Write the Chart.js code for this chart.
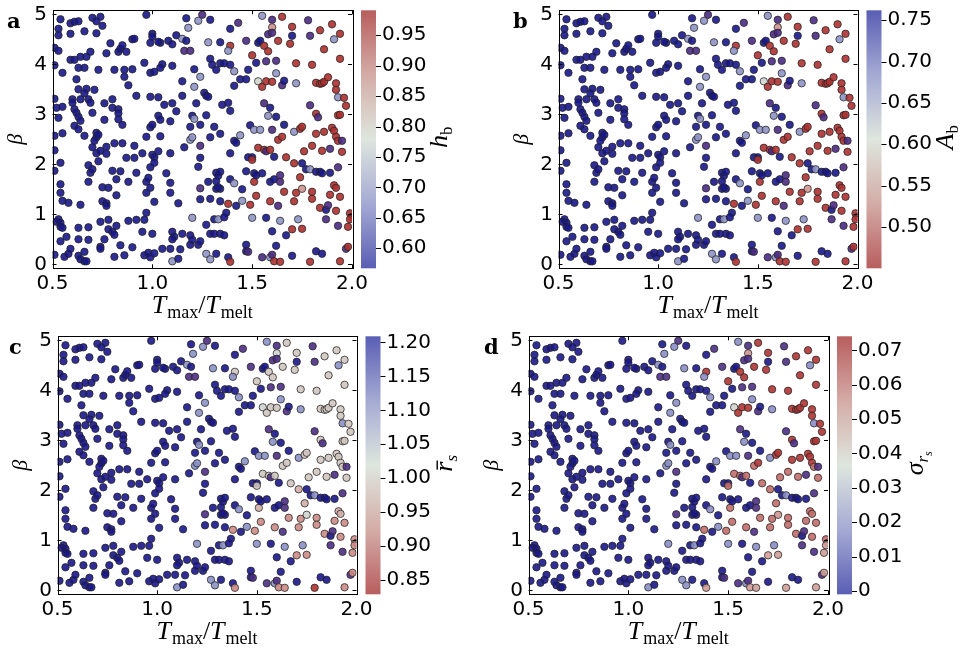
<!DOCTYPE html>
<html>
<head>
<meta charset="utf-8">
<script src="https://cdn.jsdelivr.net/npm/chart.js@4.4.1/dist/chart.umd.min.js"></script>
<style>
html, body { margin: 0; padding: 0; background: #fff; }
#wrap { position: relative; width: 966px; height: 653px; overflow: hidden; }
canvas { position: absolute; }
</style>
</head>
<body>
<div id="wrap">
<canvas id="pa"></canvas>
<canvas id="pb"></canvas>
<canvas id="pc"></canvas>
<canvas id="pd"></canvas>
</div>
<script>
// sample points, T_max/T_melt and beta (same runs in all four panels)
var tmax = [
0.54,0.53,0.53,0.59,0.61,0.63,0.59,0.66,0.70,0.74,0.72,0.75,0.72,0.97,1.17,1.25,1.23,1.29,1.18,1.39,1.43,1.55,1.60,1.65,1.60,1.58,1.60,1.70,1.70,1.78,1.84,1.90,1.94,1.91,1.00,1.00,1.12,1.15,1.17,1.08,1.04,1.10,
0.51,0.53,0.64,0.67,0.69,0.59,0.61,0.77,0.79,0.83,0.84,0.87,0.85,0.90,0.91,0.99,1.03,1.16,1.19,1.28,1.34,1.39,1.38,1.47,1.53,1.54,1.56,1.58,1.63,1.69,1.79,1.86,1.50,1.57,1.62,1.72,1.94,1.52,1.29,
0.51,0.55,0.63,0.66,0.62,0.63,0.67,0.73,0.81,0.86,0.86,0.88,0.90,0.96,0.99,1.01,1.05,1.04,1.10,1.15,1.21,1.24,1.21,1.26,1.27,1.30,1.32,1.34,1.36,1.39,1.41,1.44,1.47,1.48,1.41,1.53,1.55,1.57,1.60,1.62,1.65,1.66,1.72,1.82,1.84,1.85,1.86,1.88,1.92,1.92,1.93,1.96,1.97,1.80,
0.51,0.52,0.55,0.60,0.60,0.61,0.62,0.64,0.66,0.68,0.69,0.71,0.70,0.76,0.80,0.80,0.83,0.83,0.92,0.99,1.03,1.06,1.10,1.15,1.12,1.22,1.20,1.21,1.27,1.28,1.35,1.38,1.39,1.56,1.59,1.58,1.62,1.79,1.82,1.83,1.93,1.94,
0.51,0.53,0.55,0.61,0.63,0.63,0.64,0.66,0.72,0.72,0.73,0.76,0.83,0.85,0.97,0.99,1.00,1.03,1.04,1.09,1.19,1.24,1.31,1.34,1.29,1.44,1.49,1.51,1.54,1.60,1.66,1.71,1.74,1.75,1.82,1.86,1.90,1.91,1.92,1.93,1.95,1.63,1.65,
0.51,0.70,0.72,0.74,0.71,0.73,0.77,0.77,0.81,0.85,0.91,0.95,1.00,1.01,1.03,1.04,1.09,1.16,1.19,1.20,1.24,1.24,1.39,1.41,1.42,1.48,1.50,1.50,1.53,1.56,1.57,1.59,1.61,1.67,1.76,1.80,1.85,1.89,1.95,0.87,
0.54,0.51,0.54,0.68,0.69,0.68,0.70,0.75,0.78,0.80,0.82,0.84,0.88,0.91,0.92,0.97,0.99,1.01,1.07,1.09,0.97,0.99,1.09,1.23,1.28,1.32,1.33,1.34,1.32,1.32,1.34,1.39,1.41,1.47,1.51,1.51,1.52,1.55,1.59,1.61,1.64,1.64,1.71,1.74,1.75,1.77,1.79,1.82,1.84,1.85,1.89,1.91,1.92,1.93,0.98,
0.54,0.55,0.58,0.64,0.75,0.77,0.77,0.82,1.01,0.97,1.13,1.24,1.24,1.29,1.33,1.34,1.37,1.38,1.42,1.45,1.45,1.49,1.52,1.59,1.66,1.72,1.71,1.75,1.80,1.80,1.84,1.87,1.88,1.89,1.94,1.92,1.99,2.00,1.63,
0.53,0.52,0.54,0.54,0.55,0.63,0.68,0.74,0.78,0.78,0.80,0.81,0.82,0.88,0.92,0.96,0.95,1.00,1.10,1.11,1.15,1.20,1.27,1.29,1.31,1.33,1.36,1.31,1.34,1.36,1.50,1.57,1.60,1.64,1.70,1.73,1.75,1.87,1.93,1.98,1.99,1.67,0.57,1.19,
0.51,0.54,0.56,0.58,0.59,0.63,0.64,0.66,0.67,0.63,0.68,0.74,0.74,0.76,0.81,0.84,0.86,0.90,0.96,0.98,0.99,1.01,1.05,1.09,1.10,1.13,1.14,1.19,1.20,1.23,1.24,1.27,1.29,1.32,1.38,1.39,1.47,1.47,1.48,1.55,1.59,1.60,1.61,1.62,1.64,1.70,1.79,1.82,1.85,1.94,1.97,1.98,1.10,0.66
];
var beta = [
4.90,4.71,4.58,4.82,4.85,4.86,4.61,4.66,4.93,4.95,4.86,4.77,4.62,4.99,4.92,4.99,4.87,4.89,4.73,4.71,4.83,4.97,4.89,4.95,4.74,4.60,4.63,4.75,4.57,4.88,4.68,4.80,4.61,4.50,4.61,4.55,4.58,4.51,4.47,4.47,4.43,4.40,
4.33,4.27,4.15,4.15,4.25,4.09,4.09,4.22,4.42,4.25,4.31,4.25,4.38,4.50,4.51,4.43,4.45,4.27,4.27,4.44,4.44,4.37,4.27,4.47,4.43,4.47,4.37,4.26,4.47,4.41,4.57,4.30,4.18,4.06,4.07,4.02,4.11,4.03,4.11,
3.98,3.83,3.93,3.93,3.70,3.50,3.51,3.89,3.89,3.89,3.75,3.58,3.90,4.03,3.83,3.85,4.00,3.93,3.97,3.66,3.90,3.75,3.55,3.43,3.37,3.99,3.89,4.02,4.02,3.99,3.86,3.70,3.70,3.89,3.57,3.66,3.55,3.66,3.65,3.82,3.58,3.67,3.62,3.63,3.61,3.62,3.65,3.74,3.62,3.49,3.34,3.33,3.17,3.99,
3.31,3.13,3.15,3.30,3.23,3.10,3.03,3.30,3.42,3.30,3.23,3.49,3.03,3.22,3.30,3.13,3.10,3.02,3.37,3.35,3.34,3.19,3.22,3.37,3.06,3.22,2.97,2.91,2.98,3.35,3.19,3.23,3.07,3.22,3.13,2.97,2.95,3.18,3.01,2.94,2.98,2.99,
2.57,2.93,2.62,2.77,2.70,2.95,2.87,2.57,2.63,2.54,2.59,2.89,2.90,2.79,2.55,2.74,2.79,2.97,2.89,2.86,2.75,2.79,2.75,2.61,2.54,2.58,2.78,2.69,2.69,2.69,2.79,2.65,2.71,2.75,2.61,2.65,2.73,2.67,2.55,2.47,2.47,2.49,2.55,
2.28,2.34,2.22,2.27,2.47,2.06,2.35,2.21,2.42,2.42,2.37,2.22,2.19,2.14,2.26,2.56,2.22,2.34,2.49,2.54,2.37,2.13,2.22,2.47,2.43,2.14,2.14,2.09,2.33,2.29,2.26,2.29,2.15,2.14,2.26,2.37,2.27,2.31,2.25,2.13,
2.03,1.87,1.60,1.98,1.83,1.65,1.90,1.54,1.53,1.87,1.70,1.86,1.65,2.13,1.83,1.65,1.94,2.03,1.82,1.63,1.43,1.53,1.43,1.95,1.65,1.83,1.77,1.85,1.66,1.51,1.51,1.70,1.62,1.86,1.65,1.82,1.78,1.82,1.65,1.70,1.78,1.65,2.02,1.74,2.02,1.90,1.90,1.85,1.85,1.82,1.83,1.58,1.53,1.94,1.73,
1.43,1.27,1.23,1.19,1.26,1.22,1.17,1.38,1.25,1.03,1.22,1.30,1.52,1.31,1.54,1.26,1.03,1.21,1.17,1.27,1.50,1.19,1.37,1.26,1.45,1.43,1.26,1.51,1.45,1.31,1.13,1.09,1.18,1.39,1.35,1.07,1.02,0.95,1.17,
0.90,0.85,0.83,0.75,0.73,0.73,0.74,0.85,0.89,0.70,0.65,0.59,0.77,0.87,0.89,0.89,0.65,0.61,0.65,0.55,0.61,0.93,0.79,0.61,0.90,0.90,0.94,0.61,0.61,0.58,0.93,0.93,0.66,0.87,0.70,0.90,0.71,0.90,0.77,0.75,0.90,0.58,0.55,0.58,
0.19,0.46,0.15,0.21,0.31,0.17,0.10,0.06,0.06,0.50,0.49,0.35,0.31,0.50,0.15,0.38,0.18,0.34,0.18,0.23,0.14,0.22,0.31,0.31,0.06,0.11,0.30,0.39,0.49,0.39,0.46,0.21,0.10,0.21,0.14,0.05,0.39,0.26,0.25,0.14,0.14,0.19,0.06,0.37,0.05,0.17,0.05,0.26,0.21,0.06,0.31,0.35,0.50,0.25
];
// panel a: h_b
var hb = [
.57,.57,.57,.57,.57,.57,.57,.57,.57,.57,.57,.57,.57,.57,.57,.63,.72,.57,.72,.57,.63,.72,.63,.98,.87,.63,.63,.98,.57,.63,.98,.98,.98,.72,.57,.57,.57,.72,.57,.57,.57,.57,
.57,.57,.57,.57,.57,.57,.57,.57,.57,.57,.57,.57,.57,.57,.57,.57,.57,.63,.63,.72,.57,.98,.72,.63,.57,.57,.98,.98,.98,.98,.63,.98,.98,.63,.63,.98,.98,.57,.57,
.57,.57,.57,.57,.57,.57,.57,.57,.57,.57,.57,.57,.57,.57,.57,.57,.57,.57,.57,.57,.57,.72,.72,.57,.57,.57,.57,.57,.57,.57,.72,.57,.57,.57,.57,.78,.98,.98,.98,.72,.63,.57,.72,.98,.98,.98,.98,.98,.98,.98,.72,.98,.98,.98,
.57,.57,.57,.57,.57,.57,.57,.57,.57,.57,.57,.57,.57,.57,.57,.57,.57,.57,.57,.57,.57,.57,.57,.57,.57,.57,.57,.72,.57,.57,.57,.57,.57,.63,.57,.72,.57,.63,.98,.63,.98,.98,
.57,.57,.57,.57,.57,.57,.57,.57,.57,.57,.57,.57,.57,.57,.57,.57,.57,.57,.57,.57,.57,.57,.57,.57,.57,.72,.57,.72,.72,.63,.57,.72,.98,.98,.98,.98,.98,.98,.98,.98,.63,.98,.98,
.57,.57,.57,.57,.57,.57,.57,.57,.57,.57,.57,.57,.57,.57,.57,.57,.57,.57,.72,.72,.63,.57,.57,.57,.57,.57,.57,.98,.98,.98,.63,.98,.57,.98,.98,.98,.98,.63,.98,.57,
.57,.57,.57,.57,.57,.57,.57,.57,.57,.57,.57,.57,.57,.57,.57,.57,.57,.57,.57,.57,.57,.57,.57,.57,.57,.57,.57,.57,.57,.57,.57,.57,.72,.57,.98,.57,.57,.57,.57,.57,.63,.63,.98,.98,.57,.57,.72,.57,.57,.57,.57,.98,.98,.63,.57,
.57,.57,.57,.57,.57,.57,.57,.57,.57,.57,.57,.57,.63,.57,.57,.57,.57,.98,.57,.72,.57,.98,.98,.98,.98,.98,.98,.87,.98,.98,.98,.57,.63,.98,.98,.98,.98,.98,.63,
.57,.57,.57,.57,.57,.57,.57,.57,.57,.57,.57,.57,.57,.57,.57,.57,.57,.57,.57,.57,.57,.72,.57,.57,.57,.72,.57,.57,.57,.57,.72,.57,.57,.72,.98,.72,.98,.63,.63,.98,.98,.57,.57,.57,
.57,.57,.57,.57,.57,.57,.57,.57,.57,.57,.57,.57,.57,.57,.57,.57,.57,.57,.57,.57,.57,.57,.57,.57,.72,.57,.57,.57,.57,.57,.57,.72,.72,.57,.57,.98,.57,.57,.63,.63,.72,.63,.98,.57,.98,.57,.98,.57,.57,.98,.63,.98,.57,.57
];
// panel b: A_b
var Ab = [
.76,.76,.76,.76,.76,.76,.76,.76,.76,.76,.76,.76,.76,.76,.76,.715,.65,.76,.65,.76,.715,.65,.715,.46,.54,.715,.715,.46,.76,.715,.46,.46,.46,.65,.76,.76,.76,.65,.76,.76,.76,.76,
.76,.76,.76,.76,.76,.76,.76,.76,.76,.76,.76,.76,.76,.76,.76,.76,.76,.715,.715,.65,.76,.46,.65,.715,.76,.76,.46,.46,.46,.46,.715,.46,.46,.715,.715,.46,.46,.76,.76,
.76,.76,.76,.76,.76,.76,.76,.76,.76,.76,.76,.76,.76,.76,.76,.76,.76,.76,.76,.76,.76,.65,.65,.76,.76,.76,.76,.76,.76,.76,.65,.76,.76,.76,.76,.605,.46,.46,.46,.65,.715,.76,.65,.46,.46,.46,.46,.46,.46,.46,.65,.46,.46,.46,
.76,.76,.76,.76,.76,.76,.76,.76,.76,.76,.76,.76,.76,.76,.76,.76,.76,.76,.76,.76,.76,.76,.76,.76,.76,.76,.76,.65,.76,.76,.76,.76,.76,.715,.76,.65,.76,.715,.46,.715,.46,.46,
.76,.76,.76,.76,.76,.76,.76,.76,.76,.76,.76,.76,.76,.76,.76,.76,.76,.76,.76,.76,.76,.76,.76,.76,.76,.65,.76,.65,.65,.715,.76,.65,.46,.46,.46,.46,.46,.46,.46,.46,.715,.46,.46,
.76,.76,.76,.76,.76,.76,.76,.76,.76,.76,.76,.76,.76,.76,.76,.76,.76,.76,.65,.65,.715,.76,.76,.76,.76,.76,.76,.46,.46,.46,.715,.46,.76,.46,.46,.46,.46,.715,.46,.76,
.76,.76,.76,.76,.76,.76,.76,.76,.76,.76,.76,.76,.76,.76,.76,.76,.76,.76,.76,.76,.76,.76,.76,.76,.76,.76,.76,.76,.76,.76,.76,.76,.65,.76,.46,.76,.76,.76,.76,.76,.715,.715,.46,.46,.76,.76,.65,.76,.76,.76,.76,.46,.46,.715,.76,
.76,.76,.76,.76,.76,.76,.76,.76,.76,.76,.76,.76,.715,.76,.76,.76,.76,.46,.76,.65,.76,.46,.46,.46,.46,.46,.46,.54,.46,.46,.46,.76,.715,.46,.46,.46,.46,.46,.715,
.76,.76,.76,.76,.76,.76,.76,.76,.76,.76,.76,.76,.76,.76,.76,.76,.76,.76,.76,.76,.76,.65,.76,.76,.76,.65,.76,.76,.76,.76,.65,.76,.76,.65,.46,.65,.46,.715,.715,.46,.46,.76,.76,.76,
.76,.76,.76,.76,.76,.76,.76,.76,.76,.76,.76,.76,.76,.76,.76,.76,.76,.76,.76,.76,.76,.76,.76,.76,.65,.76,.76,.76,.76,.76,.76,.65,.65,.76,.76,.46,.76,.76,.715,.715,.65,.715,.46,.76,.46,.76,.46,.76,.76,.46,.715,.46,.76,.76
];
// panel c: mean r_s
var rs = [
1.205,1.205,1.205,1.205,1.205,1.205,1.205,1.205,1.205,1.205,1.205,1.205,1.205,1.205,1.205,1.15,1.075,1.205,1.075,1.205,1.15,1.075,1.15,1.00,1.02,1.15,1.15,1.00,1.205,1.15,1.00,1.00,1.00,1.075,1.205,1.205,1.205,1.075,1.205,1.205,1.205,1.205,
1.205,1.205,1.205,1.205,1.205,1.205,1.205,1.205,1.205,1.205,1.205,1.205,1.205,1.205,1.205,1.205,1.205,1.15,1.15,1.075,1.205,1.00,1.075,1.15,1.205,1.205,1.00,1.00,1.00,1.00,1.15,1.00,1.00,1.15,1.15,1.00,1.00,1.205,1.205,
1.205,1.205,1.205,1.205,1.205,1.205,1.205,1.205,1.205,1.205,1.205,1.205,1.205,1.205,1.205,1.205,1.205,1.205,1.205,1.205,1.205,1.075,1.075,1.205,1.205,1.205,1.205,1.205,1.205,1.205,1.075,1.205,1.205,1.205,1.205,1.02,1.00,1.00,1.00,1.075,1.15,1.205,1.075,1.00,1.00,1.00,1.00,1.00,1.00,1.00,1.075,1.00,1.00,1.00,
1.205,1.205,1.205,1.205,1.205,1.205,1.205,1.205,1.205,1.205,1.205,1.205,1.205,1.205,1.205,1.205,1.205,1.205,1.205,1.205,1.205,1.205,1.205,1.205,1.205,1.205,1.205,1.075,1.205,1.205,1.205,1.205,1.205,1.15,1.205,1.075,1.205,1.15,1.00,1.15,1.00,1.00,
1.205,1.205,1.205,1.205,1.205,1.205,1.205,1.205,1.205,1.205,1.205,1.205,1.205,1.205,1.205,1.205,1.205,1.205,1.205,1.205,1.205,1.205,1.205,1.205,1.205,1.075,1.205,1.075,1.075,1.15,1.205,1.075,1.00,1.00,1.00,1.00,1.00,1.00,1.00,1.00,1.15,1.00,1.00,
1.205,1.205,1.205,1.205,1.205,1.205,1.205,1.205,1.205,1.205,1.205,1.205,1.205,1.205,1.205,1.205,1.205,1.205,1.075,1.075,1.15,1.205,1.205,1.205,1.205,1.205,1.205,1.00,1.00,1.00,1.15,1.00,1.205,1.00,1.00,1.00,1.00,1.15,1.00,1.205,
1.205,1.205,1.205,1.205,1.205,1.205,1.205,1.205,1.205,1.205,1.205,1.205,1.205,1.205,1.205,1.205,1.205,1.205,1.205,1.205,1.205,1.205,1.205,1.205,1.205,1.205,1.205,1.205,1.205,1.205,1.205,1.205,1.075,1.205,.97,1.205,1.205,1.205,1.205,1.205,1.15,1.15,.97,.97,1.205,1.205,1.075,1.205,1.205,1.205,1.205,.97,.97,1.15,1.205,
1.205,1.205,1.205,1.205,1.205,1.205,1.205,1.205,1.205,1.205,1.205,1.205,1.15,1.205,1.205,1.205,1.205,.93,1.205,1.075,1.205,.93,.93,.93,.93,.93,.93,1.02,.93,.93,.93,1.205,1.15,.93,.93,.93,.93,.93,1.15,
1.205,1.205,1.205,1.205,1.205,1.205,1.205,1.205,1.205,1.205,1.205,1.205,1.205,1.205,1.205,1.205,1.205,1.205,1.205,1.205,1.205,1.075,1.205,1.205,1.205,1.075,1.205,1.205,1.205,1.205,1.075,1.205,1.205,1.075,.93,1.075,.93,1.15,1.15,.93,.93,1.205,1.205,1.205,
1.205,1.205,1.205,1.205,1.205,1.205,1.205,1.205,1.205,1.205,1.205,1.205,1.205,1.205,1.205,1.205,1.205,1.205,1.205,1.205,1.205,1.205,1.205,1.205,1.075,1.205,1.205,1.205,1.205,1.205,1.205,1.075,1.075,1.205,1.205,.93,1.205,1.205,1.15,1.15,1.075,1.15,.93,1.205,.93,1.205,.84,1.205,1.205,.93,1.15,.93,1.205,1.205
];
// panel d: sigma of r_s
var sig = [
0,0,0,0,0,0,0,0,0,0,0,0,0,0,0,.011,.025,0,.025,0,.011,.025,.011,.071,.052,.011,.011,.071,0,.011,.071,.071,.071,.025,0,0,0,.025,0,0,0,0,
0,0,0,0,0,0,0,0,0,0,0,0,0,0,0,0,0,.011,.011,.025,0,.071,.025,.011,0,0,.071,.071,.071,.071,.011,.071,.071,.011,.011,.071,.071,0,0,
0,0,0,0,0,0,0,0,0,0,0,0,0,0,0,0,0,0,0,0,0,.025,.025,0,0,0,0,0,0,0,.025,0,0,0,0,.037,.071,.071,.071,.025,.011,0,.025,.071,.071,.071,.071,.071,.071,.071,.025,.071,.071,.071,
0,0,0,0,0,0,0,0,0,0,0,0,0,0,0,0,0,0,0,0,0,0,0,0,0,0,0,.025,0,0,0,0,0,.011,0,.025,0,.011,.071,.011,.071,.071,
0,0,0,0,0,0,0,0,0,0,0,0,0,0,0,0,0,0,0,0,0,0,0,0,0,.025,0,.025,.025,.011,0,.025,.071,.071,.071,.071,.071,.071,.071,.06,.011,.06,.071,
0,0,0,0,0,0,0,0,0,0,0,0,0,0,0,0,0,0,.025,.025,.011,0,0,0,0,0,0,.06,.06,.06,.011,.06,0,.06,.06,.06,.06,.011,.06,0,
0,0,0,0,0,0,0,0,0,0,0,0,0,0,0,0,0,0,0,0,0,0,0,0,0,0,0,0,0,0,0,0,.025,0,.06,0,0,0,0,0,.011,.011,.06,.06,0,0,.025,0,0,0,0,.06,.06,.011,0,
0,0,0,0,0,0,0,0,0,0,0,0,.011,0,0,0,0,.06,0,.025,0,.06,.06,.06,.06,.06,.06,.052,.06,.06,.06,0,.011,.06,.06,.06,.06,.05,.011,
0,0,0,0,0,0,0,0,0,0,0,0,0,0,0,0,0,0,0,0,0,.025,0,0,0,.025,0,0,0,0,.025,0,0,.025,.05,.025,.05,.011,.011,.05,.05,0,0,0,
0,0,0,0,0,0,0,0,0,0,0,0,0,0,0,0,0,0,0,0,0,0,0,0,.025,0,0,0,0,0,0,.025,.025,0,0,.05,0,0,.011,.011,.025,.011,.05,0,.05,0,.05,0,0,.05,.011,.05,0,0
];

var xTicks = [0.5, 1.0, 1.5, 2.0];
var yTicks = [0, 1, 2, 3, 4, 5];
var hbTicks = [0.60, 0.65, 0.70, 0.75, 0.80, 0.85, 0.90, 0.95];
var AbTicks = [0.50, 0.55, 0.60, 0.65, 0.70, 0.75];
var rsTicks = [0.85, 0.90, 0.95, 1.00, 1.05, 1.10, 1.15, 1.20];
var sigTicks = [0, 0.01, 0.02, 0.03, 0.04, 0.05, 0.06, 0.07];

// colour maps: 0 = blue end, 1 = red end
var ptStops = [[0,[22,22,140]],[0.15,[74,42,130]],[0.35,[138,144,198]],[0.5,[208,214,208]],[0.7,[208,152,146]],[1,[170,38,38]]];
var barStops = [[0,[90,94,180]],[0.25,[165,170,212]],[0.5,[222,230,222]],[0.75,[212,172,167]],[1,[184,94,94]]];

function mix(stops, t) {
  t = Math.max(0, Math.min(1, t));
  for (var i = 1; i < stops.length; i++) {
    if (t <= stops[i][0]) {
      var a = stops[i - 1], b = stops[i], f = (t - a[0]) / (b[0] - a[0]);
      return [0, 1, 2].map(function (k) { return Math.round(a[1][k] + (b[1][k] - a[1][k]) * f); });
    }
  }
  return stops[stops.length - 1][1];
}

function IT(n) { return 'italic ' + n + 'px "Liberation Serif"'; }
function RM(n) { return n + 'px "Liberation Serif"'; }

function drawParts(ctx, parts, x, y, rot) {
  ctx.save();
  ctx.translate(x, y);
  if (rot) ctx.rotate(rot);
  ctx.fillStyle = '#000';
  ctx.textBaseline = 'alphabetic';
  ctx.textAlign = 'left';
  var w = 0;
  parts.forEach(function (p) { ctx.font = p.f; p.w = ctx.measureText(p.t).width; w += p.w + (p.gap || 0); });
  var cx = -w / 2;
  parts.forEach(function (p) {
    ctx.font = p.f;
    ctx.fillText(p.t, cx, p.dy || 0);
    if (p.bar) ctx.fillRect(cx + 2, -15, p.w - 1, 1.4);
    cx += p.w + (p.gap || 0);
  });
  ctx.restore();
}

var xTitle = [{t:'T', f:IT(26), gap:1}, {t:'max', f:RM(18), dy:5}, {t:'/', f:RM(26)}, {t:'T', f:IT(26), gap:1}, {t:'melt', f:RM(18), dy:5}];
var yTitle = [{t:'β', f:IT(22)}];

var panels = [
  { id:'pa', left:0, top:0, w:480, h:326, vals:hb, lo:0.567, hi:0.991, ticks:hbTicks, redTop:true, letter:'a', lx:7,
    label:[{t:'h', f:IT(26)}, {t:'b', f:RM(17), dy:5}] },
  { id:'pb', left:505.5, top:0, w:460.5, h:326, vals:Ab, lo:0.45, hi:0.762, ticks:AbTicks, redTop:false, letter:'b', lx:7,
    label:[{t:'A', f:IT(26)}, {t:'b', f:RM(17), dy:5}] },
  { id:'pc', left:4.5, top:326, w:471.5, h:327, vals:rs, lo:0.829, hi:1.209, ticks:rsTicks, redTop:false, letter:'c', lx:4,
    label:[{t:'r', f:IT(26), bar:true}, {t:'s', f:IT(17), dy:5}] },
  { id:'pd', left:476, top:326, w:490, h:327, vals:sig, lo:-0.001, hi:0.0741, ticks:sigTicks, redTop:true, letter:'d', lx:8,
    label:[{t:'σ', f:IT(26)}, {t:'r', f:IT(17), dy:5}, {t:'s', f:IT(12), dy:9}] }
];

var tickFont = { family: 'DejaVu Sans', size: 20 };

// keep tick-label overflow from pushing the plot area around
function noPad(s) { s.paddingTop = 0; s.paddingBottom = 0; s.paddingLeft = 0; s.paddingRight = 0; }

panels.forEach(function (p) {
  var cv = document.getElementById(p.id);
  cv.width = p.w; cv.height = p.h;
  cv.style.left = p.left + 'px'; cv.style.top = p.top + 'px';
  cv.style.width = p.w + 'px'; cv.style.height = p.h + 'px';

  var pts = tmax.map(function (x, i) { return { x: x, y: beta[i] }; });
  var cols = p.vals.map(function (v) {
    var t = (v - p.lo) / (p.hi - p.lo);
    if (!p.redTop) t = 1 - t;
    var c = mix(ptStops, t);
    return 'rgba(' + c[0] + ',' + c[1] + ',' + c[2] + ',0.9)';
  });

  var deco = {
    id: 'deco' + p.id,
    afterDraw: function (chart) {
      var ctx = chart.ctx, a = chart.chartArea, sx = chart.scales.x, sy = chart.scales.y, cb = chart.scales.cb;
      ctx.save();
      // colour bar
      var bx = a.right + 9, bw = 15;
      var g = ctx.createLinearGradient(0, cb.bottom, 0, cb.top);
      barStops.forEach(function (s) {
        var c = s[1];
        g.addColorStop(p.redTop ? s[0] : 1 - s[0], 'rgb(' + c[0] + ',' + c[1] + ',' + c[2] + ')');
      });
      ctx.fillStyle = g;
      ctx.fillRect(bx, cb.top, bw, cb.bottom - cb.top);
      ctx.strokeStyle = '#000';
      ctx.lineWidth = 1;
      ctx.beginPath();
      p.ticks.forEach(function (v) {
        var yy = Math.round(cb.getPixelForValue(v)) + 0.5;
        ctx.moveTo(bx + bw, yy); ctx.lineTo(bx + bw + 5, yy);
      });
      // inward ticks on all four sides
      xTicks.forEach(function (v) {
        var xx = Math.round(sx.getPixelForValue(v)) + 0.5;
        ctx.moveTo(xx, a.bottom); ctx.lineTo(xx, a.bottom - 4);
        ctx.moveTo(xx, a.top); ctx.lineTo(xx, a.top + 4);
      });
      yTicks.forEach(function (v) {
        var yy = Math.round(sy.getPixelForValue(v)) + 0.5;
        ctx.moveTo(a.left, yy); ctx.lineTo(a.left + 4, yy);
        ctx.moveTo(a.right, yy); ctx.lineTo(a.right - 4, yy);
      });
      ctx.stroke();
      ctx.strokeRect(Math.round(a.left) + 0.5, Math.round(a.top) + 0.5, Math.round(a.right - a.left), Math.round(a.bottom - a.top));
      // titles
      drawParts(ctx, xTitle, (a.left + a.right) / 2, a.bottom + 45, 0);
      drawParts(ctx, yTitle, 22, (a.top + a.bottom) / 2, -Math.PI / 2);
      drawParts(ctx, p.label, a.right + 95, (a.top + a.bottom) / 2 - 2, -Math.PI / 2);
      ctx.font = 'bold 21px "DejaVu Serif"';
      ctx.fillStyle = '#000';
      ctx.textAlign = 'left';
      ctx.textBaseline = 'alphabetic';
      ctx.fillText(p.letter, p.lx, 28);
      ctx.restore();
    }
  };

  new Chart(cv, {
    type: 'scatter',
    data: { datasets: [{
      data: pts,
      backgroundColor: cols,
      borderColor: 'rgba(35,35,35,0.85)',
      borderWidth: 0.9,
      pointRadius: 3.7,
      pointHoverRadius: 3.7,
      clip: 0
    }] },
    options: {
      responsive: false,
      animation: false,
      devicePixelRatio: 1,
      events: [],
      layout: { padding: { top: 10.3, left: 0, right: 0, bottom: 0 } },
      plugins: { legend: { display: false }, tooltip: { enabled: false } },
      scales: {
        x: {
          type: 'linear', min: 0.5, max: 2.0,
          afterBuildTicks: function (s) { s.ticks = xTicks.map(function (v) { return { value: v }; }); },
          afterFit: function (s) { s.height = p.h - 268.3; noPad(s); },
          grid: { display: false, drawTicks: false },
          border: { display: false },
          ticks: { font: tickFont, color: '#000', padding: 3, autoSkip: false, maxRotation: 0, minRotation: 0,
                   callback: function (v) { return v.toFixed(1); } }
        },
        y: {
          type: 'linear', min: -0.08, max: 5.08,
          afterBuildTicks: function (s) { s.ticks = yTicks.map(function (v) { return { value: v }; }); },
          afterFit: function (s) { s.width = 52.5; noPad(s); },
          grid: { display: false, drawTicks: false },
          border: { display: false },
          ticks: { font: tickFont, color: '#000', padding: 5.5, autoSkip: false,
                   callback: function (v) { return String(v); } }
        },
        cb: {
          type: 'linear', position: 'right', min: p.lo, max: p.hi,
          afterBuildTicks: function (s) { s.ticks = p.ticks.map(function (v) { return { value: v }; }); },
          afterFit: function (s) { s.width = p.w - 52.5 - 299.5; noPad(s); },
          grid: { display: false, drawTicks: false },
          border: { display: false },
          ticks: { font: tickFont, color: '#000', padding: 30, autoSkip: false,
                   callback: function (v) { return v === 0 ? '0' : v.toFixed(2); } }
        }
      }
    },
    plugins: [deco]
  });
});
</script>
</body>
</html>
